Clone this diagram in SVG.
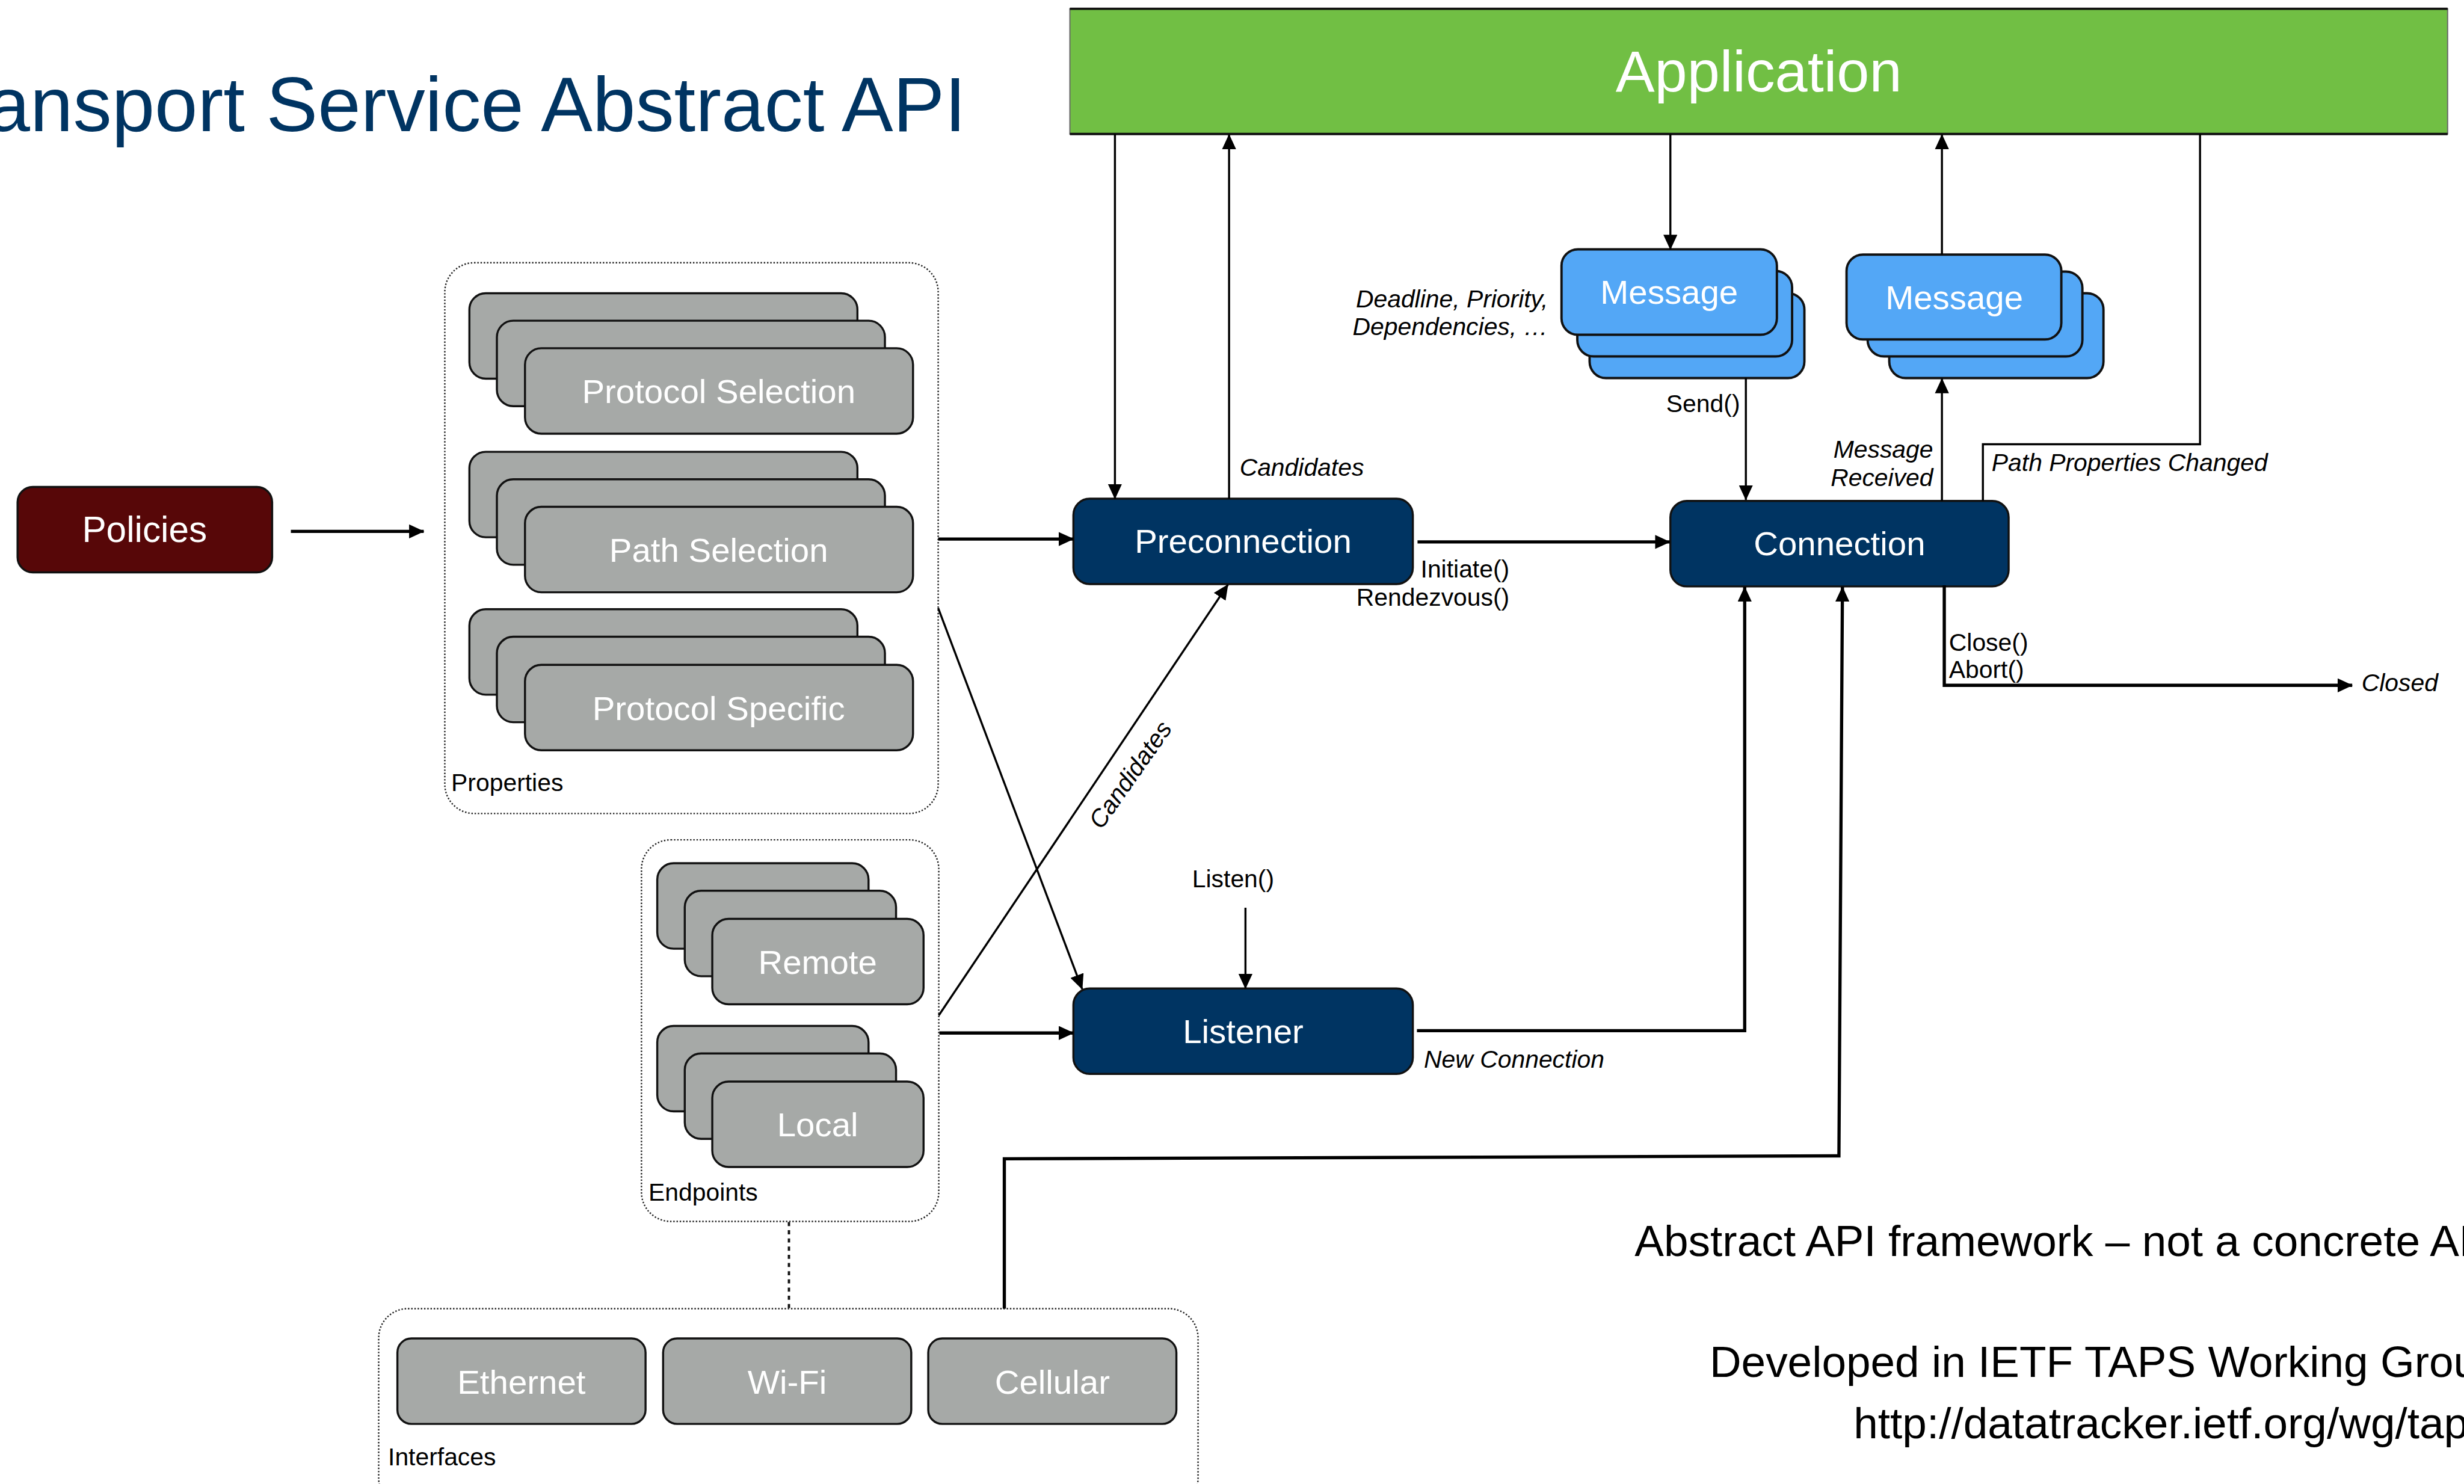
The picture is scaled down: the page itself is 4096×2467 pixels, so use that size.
<svg xmlns="http://www.w3.org/2000/svg" width="4096" height="2467" viewBox="0 0 4096 2467">
  <defs>
    <style>
      text { font-family: "Liberation Sans", Arial, Helvetica, sans-serif; }
      .gray { fill: #a6a9a7; stroke: #111; stroke-width: 3.5; }
      .navy { fill: #003462; stroke: #111; stroke-width: 3.5; }
      .blue { fill: #53a7f6; stroke: #111; stroke-width: 4; }
      .frame { fill: none; stroke: #222; stroke-width: 2.5; stroke-dasharray: 2.5 3; }
      .nl { font-size: 58px; fill: #ffffff; text-anchor: middle; }
      .lbl { font-size: 42px; fill: #000; }
      .it { font-style: italic; }
      .end { text-anchor: end; }
      .mid { text-anchor: middle; }
      .ln { fill: none; stroke: #000; stroke-width: 3.5; }
      .lk { fill: none; stroke: #000; stroke-width: 5.5; }
      .note { font-size: 75px; fill: #000; }
    </style>
    <marker id="arrow" markerUnits="userSpaceOnUse" viewBox="0 0 26 24" markerWidth="26" markerHeight="24" refX="25" refY="12" orient="auto">
      <path d="M0,0 L26,12 L0,24 z" fill="#000"/>
    </marker>
  </defs>

  <rect width="4096" height="2467" fill="#ffffff"/>

  <g transform="scale(0.97292)">
    <!-- heading -->
    <text id="title" x="-22" y="224" font-size="132" fill="#003462">ansport Service Abstract API</text>

    <!-- Application bar -->
    <g id="application">
      <rect x="1828" y="15" width="2354" height="214" fill="#71bf44" stroke="#666" stroke-width="2"/>
      <line x1="1828" y1="15" x2="4182" y2="15" stroke="#111" stroke-width="4"/>
      <line x1="1828" y1="229" x2="4182" y2="229" stroke="#111" stroke-width="4"/>
      <text x="3005" y="156" font-size="100" fill="#ffffff" text-anchor="middle">Application</text>
    </g>

    <!-- Policies -->
    <g id="policies">
      <rect x="30" y="832" width="435" height="146" rx="26" fill="#570708" stroke="#111" stroke-width="3.5"/>
      <text x="247" y="926" font-size="62" fill="#ffffff" text-anchor="middle">Policies</text>
    </g>

    <!-- Properties container -->
    <g id="properties">
      <rect class="frame" x="760" y="449" width="843" height="941" rx="50"/>
      <text class="lbl" x="771" y="1352">Properties</text>
      <g id="protocol-selection">
        <rect class="gray" x="802" y="501" width="663" height="146" rx="28"/>
        <rect class="gray" x="849" y="548" width="663" height="146" rx="28"/>
        <rect class="gray" x="897" y="595" width="663" height="146" rx="28"/>
        <text class="nl" x="1228" y="689">Protocol Selection</text>
      </g>
      <g id="path-selection">
        <rect class="gray" x="802" y="772" width="663" height="146" rx="28"/>
        <rect class="gray" x="849" y="819" width="663" height="146" rx="28"/>
        <rect class="gray" x="897" y="866" width="663" height="146" rx="28"/>
        <text class="nl" x="1228" y="960">Path Selection</text>
      </g>
      <g id="protocol-specific">
        <rect class="gray" x="802" y="1041" width="663" height="146" rx="28"/>
        <rect class="gray" x="849" y="1088" width="663" height="146" rx="28"/>
        <rect class="gray" x="897" y="1136" width="663" height="146" rx="28"/>
        <text class="nl" x="1228" y="1230">Protocol Specific</text>
      </g>
    </g>

    <!-- Endpoints container -->
    <g id="endpoints">
      <rect class="frame" x="1096" y="1435" width="508" height="652" rx="50"/>
      <text class="lbl" x="1108" y="2052">Endpoints</text>
      <g id="remote">
        <rect class="gray" x="1123" y="1475" width="361" height="146" rx="28"/>
        <rect class="gray" x="1170" y="1522" width="361" height="146" rx="28"/>
        <rect class="gray" x="1217" y="1570" width="361" height="146" rx="28"/>
        <text class="nl" x="1397" y="1664">Remote</text>
      </g>
      <g id="local">
        <rect class="gray" x="1123" y="1753" width="361" height="146" rx="28"/>
        <rect class="gray" x="1170" y="1800" width="361" height="146" rx="28"/>
        <rect class="gray" x="1217" y="1848" width="361" height="146" rx="28"/>
        <text class="nl" x="1397" y="1942">Local</text>
      </g>
    </g>

    <!-- Interfaces container -->
    <g id="interfaces">
      <rect class="frame" x="647" y="2236" width="1400" height="340" rx="50"/>
      <text class="lbl" x="663" y="2504">Interfaces</text>
      <g id="ethernet">
        <rect class="gray" x="679" y="2287" width="424" height="146" rx="24"/>
        <text class="nl" x="891" y="2381">Ethernet</text>
      </g>
      <g id="wifi">
        <rect class="gray" x="1133" y="2287" width="424" height="146" rx="24"/>
        <text class="nl" x="1345" y="2381">Wi-Fi</text>
      </g>
      <g id="cellular">
        <rect class="gray" x="1586" y="2287" width="424" height="146" rx="24"/>
        <text class="nl" x="1798" y="2381">Cellular</text>
      </g>
    </g>

    <!-- Core objects -->
    <g id="preconnection">
      <rect class="navy" x="1834" y="852" width="580" height="146" rx="28"/>
      <text class="nl" x="2124" y="945">Preconnection</text>
    </g>
    <g id="connection">
      <rect class="navy" x="2854" y="856" width="578" height="146" rx="28"/>
      <text class="nl" x="3143" y="949">Connection</text>
    </g>
    <g id="listener">
      <rect class="navy" x="1834" y="1689" width="580" height="146" rx="28"/>
      <text class="nl" x="2124" y="1782">Listener</text>
    </g>

    <!-- Outgoing messages -->
    <g id="message-send">
      <rect class="blue" x="2716" y="501" width="367" height="145" rx="28"/>
      <rect class="blue" x="2695" y="463" width="367" height="146" rx="28"/>
      <rect class="blue" x="2668" y="426" width="368" height="146" rx="28"/>
      <text class="nl" x="2852" y="519">Message</text>
    </g>
    <!-- Incoming messages -->
    <g id="message-receive">
      <rect class="blue" x="3228" y="501" width="366" height="145" rx="28"/>
      <rect class="blue" x="3191" y="464" width="367" height="145" rx="28"/>
      <rect class="blue" x="3155" y="435" width="367" height="145" rx="28"/>
      <text class="nl" x="3339" y="528">Message</text>
    </g>

    <!-- Connectors and their labels -->
    <g id="connectors">
      <path class="ln" d="M1905 229 V852" marker-end="url(#arrow)"/>
      <path class="ln" d="M2100 852 V230" marker-end="url(#arrow)"/>
      <text class="lbl it" x="2118" y="813">Candidates</text>

      <path class="ln" d="M2854 229 V426" marker-end="url(#arrow)"/>
      <text class="lbl it end" x="2645" y="525">Deadline, Priority,</text>
      <text class="lbl it end" x="2645" y="573">Dependencies, …</text>

      <path class="ln" d="M2983 646 V854" marker-end="url(#arrow)"/>
      <text class="lbl end" x="2973" y="704">Send()</text>

      <path class="ln" d="M3318 856 V647" marker-end="url(#arrow)"/>
      <path class="ln" d="M3318 435 V230" marker-end="url(#arrow)"/>
      <text class="lbl it end" x="3303" y="782">Message</text>
      <text class="lbl it end" x="3303" y="831">Received</text>

      <path class="ln" d="M3388 856 V759 H3759 V229"/>
      <text class="lbl it" x="3403" y="805">Path Properties Changed</text>

      <path class="lk" d="M497 908 H724" marker-end="url(#arrow)"/>
      <path class="lk" d="M1603 921 H1834" marker-end="url(#arrow)"/>

      <path class="lk" d="M2422 926 H2853" marker-end="url(#arrow)"/>
      <text class="lbl end" x="2579" y="987">Initiate()</text>
      <text class="lbl end" x="2579" y="1035">Rendezvous()</text>

      <path class="lk" d="M3322 1000 V1171 H4019" marker-end="url(#arrow)"/>
      <text class="lbl" x="3330" y="1112">Close()</text>
      <text class="lbl" x="3330" y="1158">Abort()</text>
      <text class="lbl it" x="4035" y="1181">Closed</text>

      <path class="ln" d="M1603 1039 L1849 1690" marker-end="url(#arrow)" stroke-width="4"/>
      <path class="ln" d="M1604 1735 L2098 999" marker-end="url(#arrow)" stroke-width="4"/>
      <text class="lbl it mid" transform="translate(1943,1332) rotate(-55)">Candidates</text>

      <path class="lk" d="M1605 1765 H1834" marker-end="url(#arrow)"/>

      <path class="ln" d="M2128 1551 V1689" marker-end="url(#arrow)"/>
      <text class="lbl mid" x="2107" y="1516">Listen()</text>

      <path class="lk" d="M2421 1761 H2981 V1003" marker-end="url(#arrow)"/>
      <text class="lbl it" x="2433" y="1824">New Connection</text>

      <path class="lk" d="M1716 2236 V1980 L3142 1975 L3148 1003" marker-end="url(#arrow)"/>

      <path d="M1348 2088 V2236" fill="none" stroke="#111" stroke-width="4" stroke-dasharray="7 7"/>
    </g>

    <!-- Side notes -->
    <g id="notes">
      <text class="note" x="2793" y="2146">Abstract API framework – not a concrete AP</text>
      <text class="note" x="2921" y="2353">Developed in IETF TAPS Working Grou</text>
      <text class="note" x="3167" y="2458">http://datatracker.ietf.org/wg/tap</text>
    </g>
  </g>
</svg>
